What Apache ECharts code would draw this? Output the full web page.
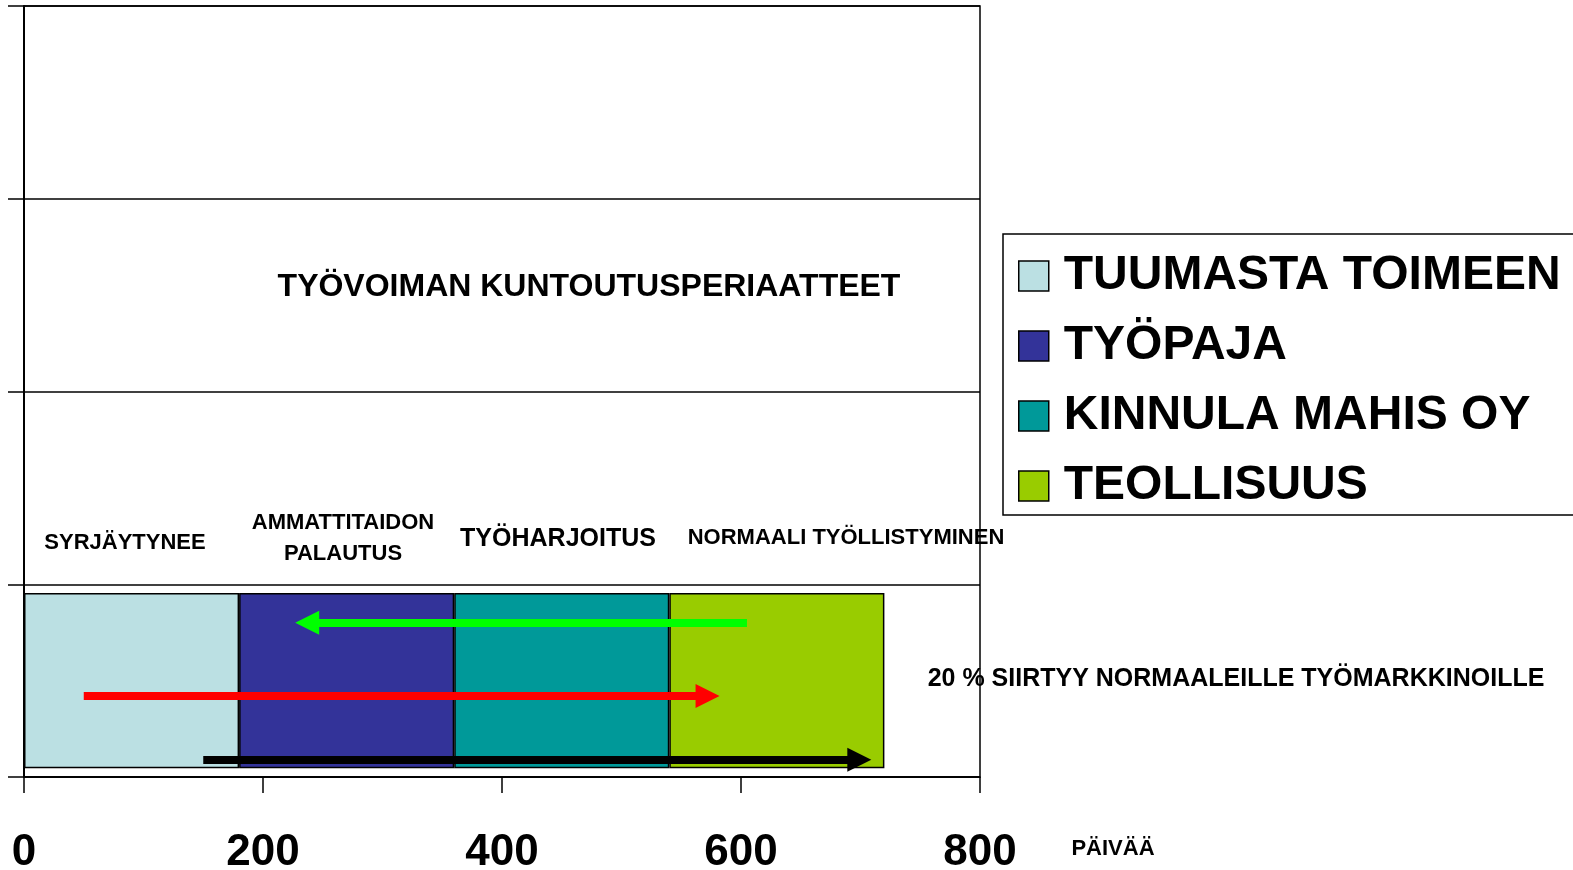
<!DOCTYPE html>
<html>
<head>
<meta charset="utf-8">
<script src="https://cdn.jsdelivr.net/npm/echarts@6/dist/echarts.min.js"></script>
<style>
  html, body { margin: 0; padding: 0; background: #fff; }
  #main { width: 1573px; height: 870px; }
</style>
</head>
<body>
<div id="main"></div>
<script>
// bands of the vertical axis, bottom first
const bands = ['1', '2', '3', '4'];
const phaseNames = ['TUUMASTA TOIMEEN', 'TYÖPAJA', 'KINNULA MAHIS OY', 'TEOLLISUUS'];
const phaseDays = [180, 180, 180, 180];
const phaseColors = ['#BBE0E3', '#333399', '#009999', '#99CC00'];
const xTicks = [0, 200, 400, 600, 800];

// arrows: start day, end day, height in bands
const arrowFrom = [605, 50, 150];
const arrowTo = [237, 572, 699];
const arrowLevel = [0.8, 0.42, 0.09];
const arrowColors = ['#00FF00', '#FF0000', '#000000'];

const FONT = 'Arial, "Liberation Sans", sans-serif';

const myChart = echarts.init(document.getElementById('main'));

const barSeries = phaseNames.map((name, i) => ({
  name: name,
  type: 'bar',
  stack: 'total',
  barWidth: '91%',
  xAxisIndex: 0,
  yAxisIndex: 0,
  itemStyle: { color: phaseColors[i], borderColor: '#000', borderWidth: 1.5 },
  data: bands.map((b, j) => j === 0 ? phaseDays[i] : '-')
}));

const arrowSeries = {
  type: 'lines',
  coordinateSystem: 'cartesian2d',
  xAxisIndex: 0,
  yAxisIndex: 1,
  symbol: ['none', 'triangle'],
  symbolSize: [23, 24],
  z: 10,
  data: arrowFrom.map((x, i) => ({
    coords: [[x, arrowLevel[i]], [arrowTo[i], arrowLevel[i]]],
    lineStyle: { color: arrowColors[i], width: 8, opacity: 1, type: 'solid' },
    itemStyle: { color: arrowColors[i] }
  }))
};

function txt(x, y, text, size, align) {
  return {
    type: 'text', x: x, y: y, z: 20,
    style: {
      text: text, fill: '#000', font: 'bold ' + size + 'px ' + FONT,
      align: align || 'center', verticalAlign: 'middle', lineHeight: size + 9
    }
  };
}

const option = {
  animation: false,
  backgroundColor: '#fff',
  grid: {
    left: 24, top: 6, right: 593, bottom: 93,
    outerBoundsMode: 'none',
    containLabel: false,
    show: true, borderColor: '#000', borderWidth: 1.5, backgroundColor: 'transparent'
  },
  legend: {
    data: phaseNames,
    orient: 'vertical',
    left: 1003, top: 234,
    padding: [17, 20, 4, 15],
    itemWidth: 30, itemHeight: 30,
    itemGap: 20,
    icon: 'rect',
    borderColor: '#000', borderWidth: 1.5,
    itemStyle: { borderColor: '#000', borderWidth: 1.5 },
    textStyle: { fontSize: 48, fontWeight: 'bold', color: '#000', fontFamily: FONT, lineHeight: 50, padding: [0, 0, 0, 10] }
  },
  xAxis: {
    type: 'value',
    min: 0, max: 800, interval: 200,
    axisLine: { show: true, lineStyle: { color: '#000', width: 1.5 } },
    axisTick: { show: true, length: 16, lineStyle: { color: '#000', width: 1.5 } },
    splitLine: { show: false },
    axisLabel: {
      margin: 54, fontSize: 44, fontWeight: 'bold', color: '#000', fontFamily: FONT,
      customValues: xTicks
    }
  },
  yAxis: [{
    type: 'category',
    data: bands,
    axisLine: { show: true, lineStyle: { color: '#000', width: 2 } },
    axisTick: { show: true, inside: false, length: 16, lineStyle: { color: '#000', width: 1.5 } },
    axisLabel: { show: false },
    splitLine: { show: true, lineStyle: { color: '#000', width: 1.5 } }
  }, {
    type: 'value',
    min: 0, max: 4,
    show: false
  }],
  graphic: [
    txt(589, 287, 'TYÖVOIMAN KUNTOUTUSPERIAATTEET', 32),
    txt(125, 543, 'SYRJÄYTYNEE', 22),
    txt(343, 538, 'AMMATTITAIDON\nPALAUTUS', 22),
    txt(558, 539, 'TYÖHARJOITUS', 25),
    txt(846, 538, 'NORMAALI TYÖLLISTYMINEN', 22),
    txt(1236, 679, '20 % SIIRTYY NORMAALEILLE TYÖMARKKINOILLE', 25),
    txt(1113, 849, 'PÄIVÄÄ', 22)
  ],
  series: barSeries.concat([arrowSeries])
};

myChart.setOption(option);
</script>
</body>
</html>
